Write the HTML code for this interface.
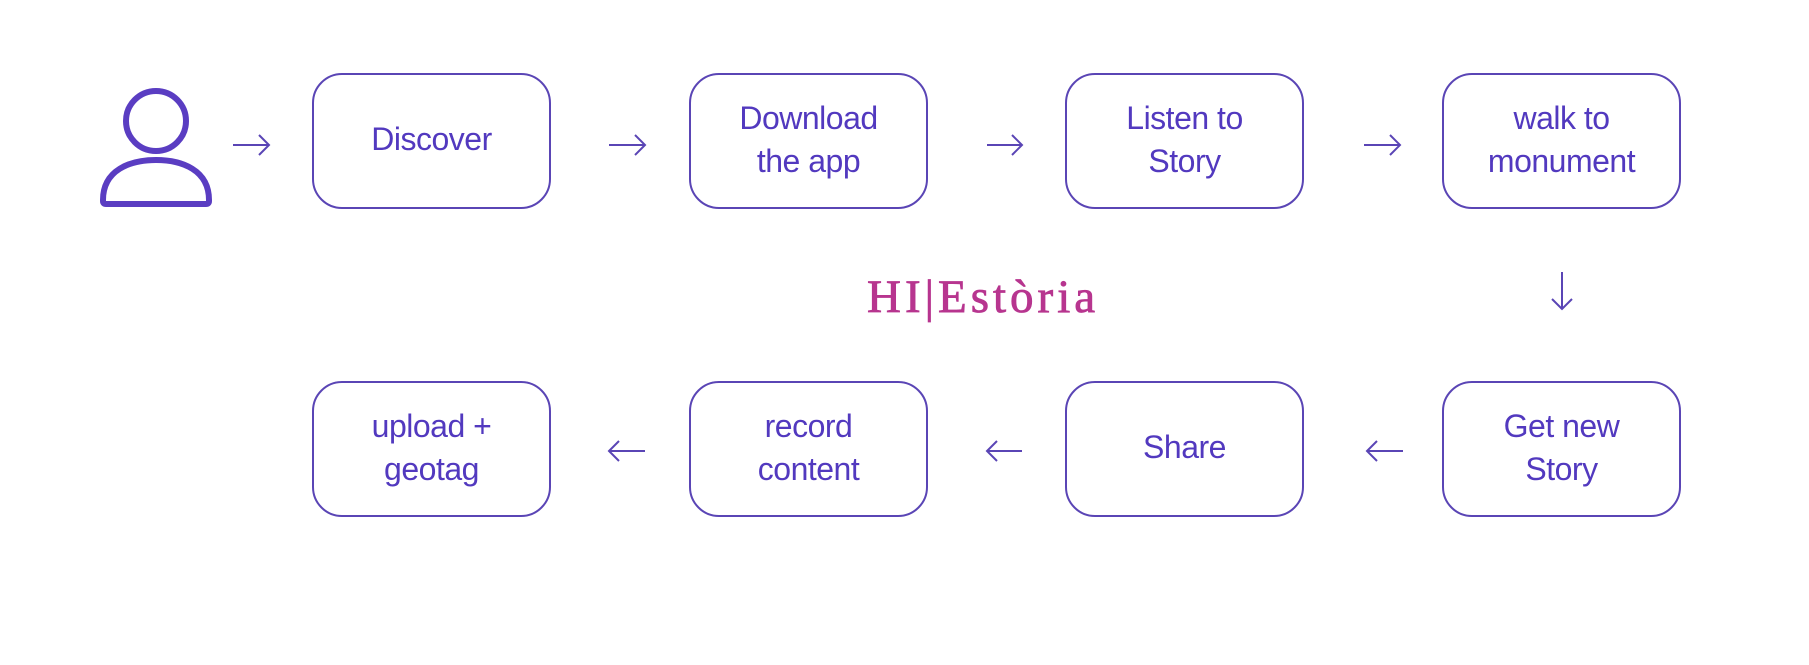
<!DOCTYPE html>
<html><head><meta charset="utf-8"><style>
html,body{margin:0;padding:0;background:#fff;}
#c{position:relative;width:1809px;height:665px;overflow:hidden;background:#fff;}
.b{position:absolute;width:235px;border:2px solid #5a45b5;border-radius:30px;display:flex;align-items:center;justify-content:center;text-align:center;font-family:"Liberation Sans",sans-serif;font-size:32px;line-height:43px;color:#5239bf;letter-spacing:-0.5px;padding-bottom:3px;box-sizing:content-box;height:129px;}
svg{position:absolute;left:0;top:0;}
.t{position:absolute;left:867px;top:270px;font-family:"Liberation Serif",serif;font-size:47px;color:#b7358f;letter-spacing:4px;-webkit-text-stroke:0.8px #b7358f;}
</style></head><body><div id="c">
<svg width="1809" height="665" fill="none" stroke="#5a45b5" stroke-width="2">
<circle cx="156" cy="121" r="30" stroke="#5a3dc2" stroke-width="6"/>
<path d="M103 200 C103 170 130 160 156 160 C182 160 209 170 209 200 L209 201 Q209 204 206 204 L106 204 Q103 204 103 201 Z" stroke="#5a3dc2" stroke-width="6"/>
<g>
<path d="M233 145 H269 M259 135 L269 145 L259 155"/>
<path d="M609 145 H645 M635 135 L645 145 L635 155"/>
<path d="M987 145 H1022 M1012 135 L1022 145 L1012 155"/>
<path d="M1364 145 H1400 M1390 135 L1400 145 L1390 155"/>
<path d="M1562 272 V309 M1552 299 L1562 309 L1572 299"/>
<path d="M609 451 H645 M619 441 L609 451 L619 461"/>
<path d="M987 451 H1022 M997 441 L987 451 L997 461"/>
<path d="M1367 451 H1403 M1377 441 L1367 451 L1377 461"/>
</g>
</svg>
<div class="b" style="left:312px;top:73px">Discover</div>
<div class="b" style="left:689px;top:73px">Download<br>the app</div>
<div class="b" style="left:1065px;top:73px">Listen to<br>Story</div>
<div class="b" style="left:1442px;top:73px">walk to<br>monument</div>
<div class="b" style="left:312px;top:381px">upload +<br>geotag</div>
<div class="b" style="left:689px;top:381px">record<br>content</div>
<div class="b" style="left:1065px;top:381px">Share</div>
<div class="b" style="left:1442px;top:381px">Get new<br>Story</div>
<div class="t">HI|Estòria</div>
</div></body></html>
